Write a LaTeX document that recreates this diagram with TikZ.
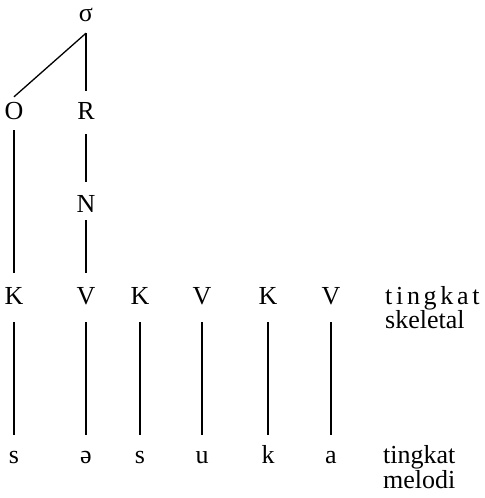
\documentclass[tikz,border=0pt]{standalone}
\usepackage{fontspec}
\setmainfont{Liberation Serif}

\begin{document}
\begin{tikzpicture}[x=1bp,y=-1bp,
    seg/.style={inner sep=0pt,text height=17bp,text depth=0pt,anchor=base,
        font=\fontsize{26bp}{23bp}\selectfont},
    lab/.style={inner sep=0pt,anchor=base west,font=\fontsize{26bp}{23bp}\selectfont},
    link/.style={draw,line width=1.3bp,shorten <=11bp,shorten >=12bp},
    tie/.style={draw,line width=1.3bp,shorten <=18bp,shorten >=11bp}]
    \useasboundingbox (0,0) rectangle (485,498);
    % syllable tree
    \node[seg] (sigma) at (86,22) {σ};
    \node[seg] (O) at (14,120) {O};
    \node[seg] (R) at (86,120) {R};
    \node[seg] (N) at (86,212) {N};
    % skeletal tier
    \node[seg] (k1) at (14,304) {K};
    \node[seg] (v1) at (86,304) {V};
    \node[seg] (k2) at (140,304) {K};
    \node[seg] (v2) at (202,304) {V};
    \node[seg] (k3) at (268,304) {K};
    \node[seg] (v3) at (331,304) {V};
    % melodic tier
    \node[seg] (m1) at (14,463) {s};
    \node[seg] (m2) at (86,463) {ə};
    \node[seg] (m3) at (140,463) {s};
    \node[seg] (m4) at (202,463) {u};
    \node[seg] (m5) at (268,463) {k};
    \node[seg] (m6) at (331,463) {a};
    % tier labels
    \node[lab] (skel1) at (385,304) {t\kern3.7bp i\kern3.7bp n\kern3.7bp g\kern3.7bp k\kern3.7bp a\kern3.7bp t};
    \node[lab] (skel2) at (385,328) {skeletal};
    \node[lab] (mel1) at (383,463) {tingkat};
    \node[lab] (mel2) at (383,488) {melodi};
    \path[link]
        ([yshift=-11bp]sigma.south) edge[shorten <=0pt,shorten >=0pt] ([yshift=6bp]O.north)
        (sigma) edge (R.north)
        (O) edge[shorten <=10bp,shorten >=14bp] (k1.north)
        (R) edge[shorten <=14bp,shorten >=13bp] (N.north)
        (N) edge[shorten <=8bp,shorten >=14bp] (v1.north);
    \path[tie]
        (k1) edge (m1.north)
        (v1) edge (m2.north)
        (k2) edge (m3.north)
        (v2) edge (m4.north)
        (k3) edge (m5.north)
        (v3) edge (m6.north);
\end{tikzpicture}
\end{document}
